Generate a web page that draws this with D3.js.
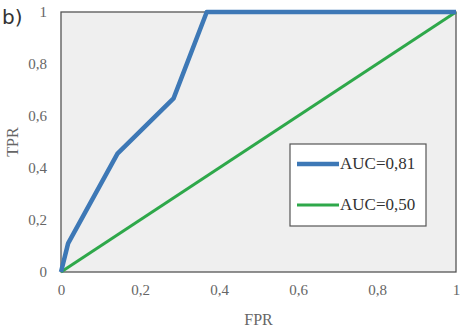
<!DOCTYPE html>
<html><head><meta charset="utf-8">
<script src="https://cdn.jsdelivr.net/npm/d3@7"></script>
<style>body{margin:0;background:#fff}svg{display:block}</style>
</head><body>
<script>
const xTicks = [0, 0.2, 0.4, 0.6, 0.8, 1];
const yTicks = [0, 0.2, 0.4, 0.6, 0.8, 1];
const tickLabels = ["0", "0,2", "0,4", "0,6", "0,8", "1"];
const rocFPR = [0, 0.018, 0.143, 0.285, 0.369, 1];
const rocTPR = [0, 0.11, 0.455, 0.668, 1, 1];
const diagFPR = [0, 1];
const diagTPR = [0, 1];
const seriesNames = ["AUC=0,81", "AUC=0,50"];
const seriesColors = ["#3d78b6", "#2ea84a"];

const W = 461, H = 330;
const m = {l: 61, t: 12, r: 5, b: 58};
const svg = d3.select("body").append("svg").attr("width", W).attr("height", H);
const x = d3.scaleLinear().domain([0,1]).range([m.l, W - m.r]);
const y = d3.scaleLinear().domain([0,1]).range([H - m.b, m.t]);

svg.append("rect").attr("x", x(0)).attr("y", y(1)).attr("width", x(1)-x(0)).attr("height", y(0)-y(1))
  .attr("fill", "#efefef").attr("stroke", "#555").attr("stroke-width", 1.3);

const serif = "Liberation Serif, Times New Roman, serif";
const xa = svg.append("g").attr("transform", `translate(0,${y(0)})`)
  .call(d3.axisBottom(x).tickValues(xTicks).tickSize(0).tickPadding(12).tickFormat((d,i)=>tickLabels[i]));
const ya = svg.append("g").attr("transform", `translate(${x(0)},0)`)
  .call(d3.axisLeft(y).tickValues(yTicks).tickSize(0).tickPadding(14).tickFormat((d,i)=>tickLabels[i]));
[xa, ya].forEach(a => {
  a.attr("font-family", serif).attr("font-size", 15);
  a.select(".domain").remove();
  a.selectAll("text").attr("fill", "#666");
});

const line = d3.line().x(d=>x(d[0])).y(d=>y(d[1]));
svg.append("path").datum(diagFPR.map((v,i)=>[v, diagTPR[i]])).attr("d", line)
  .attr("fill","none").attr("stroke", seriesColors[1]).attr("stroke-width", 3);
svg.append("path").datum(rocFPR.map((v,i)=>[v, rocTPR[i]])).attr("d", line)
  .attr("fill","none").attr("stroke", seriesColors[0]).attr("stroke-width", 4.5).attr("stroke-linejoin","round");

svg.append("text").attr("x", (x(0)+x(1))/2).attr("y", 325).attr("text-anchor","middle")
  .attr("font-family", serif).attr("font-size", 16).attr("fill","#666").text("FPR");
svg.append("text").attr("transform", `translate(18,${(y(0)+y(1))/2}) rotate(-90)`).attr("text-anchor","middle")
  .attr("font-family", serif).attr("font-size", 16).attr("fill","#666").text("TPR");
svg.append("text").attr("x", 2).attr("y", 24).attr("font-family", "DejaVu Sans, Arial, sans-serif")
  .attr("font-size", 20).attr("fill","#333").text("b)");

const lg = svg.append("g");
lg.append("rect").attr("x", 290).attr("y", 144).attr("width", 136).attr("height", 82)
  .attr("fill", "#fff").attr("stroke", "#555").attr("stroke-width", 1.2);
seriesNames.forEach((n,i) => {
  const yy = 164 + i*41;
  lg.append("line").attr("x1", 297).attr("x2", 339).attr("y1", yy).attr("y2", yy)
    .attr("stroke", seriesColors[i]).attr("stroke-width", i===0 ? 4.5 : 3);
  lg.append("text").attr("x", 340).attr("y", yy+5).attr("font-family", serif).attr("font-size", 17)
    .attr("fill", "#333").text(n);
});
</script>
</body></html>
